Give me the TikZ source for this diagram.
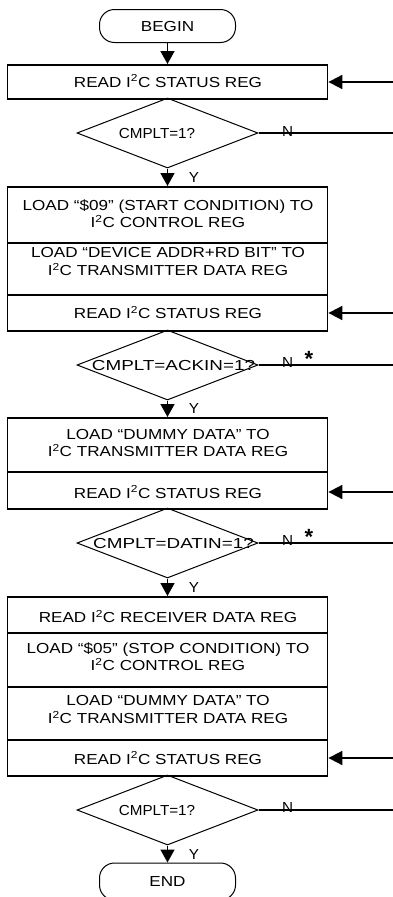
\documentclass[tikz,border=0pt]{standalone}
\usepackage{fontspec}
\setmainfont{Liberation Sans}
\newfontfamily\boxfont[FakeStretch=1.18]{Liberation Sans}
\newfontfamily\dianarrow[FakeStretch=1.05]{Liberation Sans}
\newfontfamily\diawide[FakeStretch=1.3]{Liberation Sans}
\usetikzlibrary{shapes.geometric,arrows.meta}
\newcommand{\topstrutx}{\rule{0pt}{13.5pt}}
\newcommand{\ITC}{I\textsuperscript{2}C}
\begin{document}
\begin{tikzpicture}[x=1pt,y=-1pt,
  sec/.style={draw, line width=1.8pt, minimum width=320pt, inner sep=0pt, anchor=north},
  term/.style={draw, line width=1pt, rounded corners=15pt, minimum width=136pt, inner sep=0pt, font=\boxfont\fontsize{14.5}{17.5}\selectfont, text height=10.4pt, text depth=0pt},
  dia/.style={draw, diamond, line width=1pt, minimum width=181pt, minimum height=70pt, inner sep=0pt},
  btxt/.style={align=center, inner sep=0pt, anchor=north, font=\boxfont\fontsize{14.5}{17.5}\selectfont},
  lbl/.style={inner sep=0pt, anchor=base, font=\dianarrow\fontsize{14.5}{17.5}\selectfont},
  widelbl/.style={inner sep=0pt, anchor=base, font=\diawide\fontsize{14.5}{17.5}\selectfont},
  starlbl/.style={inner sep=0pt, anchor=base, font=\bfseries\fontsize{22}{22}\selectfont},
  arr/.style={line width=1.5pt, -{Triangle[length=13pt,width=14pt]}},
  inarr/.style={line width=1.8pt, -{Triangle[length=14pt,width=14pt]}},
  nline/.style={line width=1.8pt}]
\useasboundingbox (0,0) rectangle (393,897);
\fill[white] (0,0) rectangle (393,897);

% terminals
\node[term, minimum height=33pt] (begin) at (167.5,26) {BEGIN};
\node[term, minimum height=37pt] (end) at (167.5,881.5) {END};

% box sections
\node[sec, minimum height=34pt] (b1) at (167.5,64) {};
\node[sec, minimum height=56pt] (b2a) at (167.5,186) {};
\node[sec, minimum height=52pt] (b2b) at (167.5,242) {};
\node[sec, minimum height=36pt] (b2c) at (167.5,294) {};
\node[sec, minimum height=54pt] (b3a) at (167.5,417) {};
\node[sec, minimum height=37pt] (b3b) at (167.5,471) {};
\node[sec, minimum height=36pt] (b4a) at (167.5,596) {};
\node[sec, minimum height=54pt] (b4b) at (167.5,632) {};
\node[sec, minimum height=53pt] (b4c) at (167.5,686) {};
\node[sec, minimum height=36pt] (b4d) at (167.5,739) {};

% box texts
\node[btxt] (t1) at (168,73.4) {\topstrutx READ \ITC{} STATUS REG};
\node[btxt] (t2a) at (168,196.5) {\topstrutx LOAD “\$09” (START CONDITION) TO\\\ITC{} CONTROL REG};
\node[btxt] (t2b) at (168,244.1) {\topstrutx LOAD “DEVICE ADDR+RD BIT” TO\\\ITC{} TRANSMITTER DATA REG};
\node[btxt] (t2c) at (168,305) {\topstrutx READ \ITC{} STATUS REG};
\node[btxt] (t3a) at (168,425.6) {\topstrutx LOAD “DUMMY DATA” TO\\\ITC{} TRANSMITTER DATA REG};
\node[btxt] (t3b) at (168,484.5) {\topstrutx READ \ITC{} STATUS REG};
\node[btxt] (t4a) at (168,608.7) {\topstrutx READ \ITC{} RECEIVER DATA REG};
\node[btxt] (t4b) at (168,639.6) {\topstrutx LOAD “\$05” (STOP CONDITION) TO\\\ITC{} CONTROL REG};
\node[btxt] (t4c) at (168,692.1) {\topstrutx LOAD “DUMMY DATA” TO\\\ITC{} TRANSMITTER DATA REG};
\node[btxt] (t4d) at (168,750.4) {\topstrutx READ \ITC{} STATUS REG};

% decisions
\node[dia] (d1) at (167.5,133) {};
\node[dia] (d2) at (167.5,365) {};
\node[dia] (d3) at (167.5,543) {};
\node[dia] (d4) at (167.5,810) {};
\node[lbl] (q1) at (157,138.7) {CMPLT=1?};
\node[widelbl] (q2) at (173.5,370.7) {CMPLT=ACKIN=1?};
\node[widelbl] (q3) at (173.5,548.7) {CMPLT=DATIN=1?};
\node[lbl] (q4) at (157,815.7) {CMPLT=1?};

% main flow
\draw[arr] (begin.south) -- (begin.south |- b1.north);
\draw[arr] (d1.south) -- (b2a.north);
\draw[arr] (d2.south) -- (b3a.north);
\draw[arr] (d3.south) -- (b4a.north);
\draw[arr] (d4.south) -- (end.north);

% Y labels
\node[lbl] (y1) at (194,182) {Y};
\node[lbl] (y2) at (194,413) {Y};
\node[lbl] (y3) at (194,592) {Y};
\node[lbl] (y4) at (194,859) {Y};

% N exits
\coordinate (n1) at (393,133);
\coordinate (n2) at (393,365);
\coordinate (n3) at (393,543);
\coordinate (n4) at (393,810);
\draw[nline] (d1.east) -- (n1);
\draw[nline] (d2.east) -- (n2);
\draw[nline] (d3.east) -- (n3);
\draw[nline] (d4.east) -- (n4);
\node[lbl] (nl1) at (287.5,136) {N};
\node[lbl] (nl2) at (287.5,367) {N};
\node[lbl] (nl3) at (287.5,545) {N};
\node[lbl] (nl4) at (287.5,812) {N};
\node[starlbl] (s2) at (309,366) {*};
\node[starlbl] (s3) at (309,544) {*};

% incoming loops
\coordinate (r1) at (393,82);
\coordinate (r2) at (393,313);
\coordinate (r3) at (393,492);
\coordinate (r4) at (393,758);
\draw[inarr] (r1) -- (r1 -| b1.east);
\draw[inarr] (r2) -- (r2 -| b2c.east);
\draw[inarr] (r3) -- (r3 -| b3b.east);
\draw[inarr] (r4) -- (r4 -| b4d.east);
\end{tikzpicture}
\end{document}
